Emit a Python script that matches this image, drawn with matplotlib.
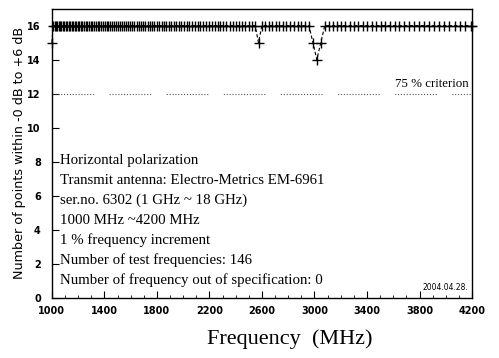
import numpy as np
import matplotlib
matplotlib.use("Agg")
import matplotlib.pyplot as plt

# Test frequencies: 1 % steps from 1000 MHz, last point at 4200 MHz (146 points)
start_mhz = 1000.0
step_ratio = 1.01
n_steps = 145
stop_mhz = 4200.0

# Number of points within -0 dB to +6 dB at each test frequency
counts = [
    15, 16, 16, 16, 16, 16, 16, 16, 16, 16, 16, 16, 16, 16, 16, 16, 16, 16, 16, 16,
    16, 16, 16, 16, 16, 16, 16, 16, 16, 16, 16, 16, 16, 16, 16, 16, 16, 16, 16, 16,
    16, 16, 16, 16, 16, 16, 16, 16, 16, 16, 16, 16, 16, 16, 16, 16, 16, 16, 16, 16,
    16, 16, 16, 16, 16, 16, 16, 16, 16, 16, 16, 16, 16, 16, 16, 16, 16, 16, 16, 16,
    16, 16, 16, 16, 16, 16, 16, 16, 16, 16, 16, 16, 16, 16, 16, 15, 16, 16, 16, 16,
    16, 16, 16, 16, 16, 16, 16, 16, 16, 16, 15, 14, 15, 16, 16, 16, 16, 16, 16, 16,
    16, 16, 16, 16, 16, 16, 16, 16, 16, 16, 16, 16, 16, 16, 16, 16, 16, 16, 16, 16,
    16, 16, 16, 16, 16, 16,
]

criterion_level = 12
criterion_label = "75 % criterion"

x_ticks = [1000, 1400, 1800, 2200, 2600, 3000, 3400, 3800, 4200]
y_ticks = [0, 2, 4, 6, 8, 10, 12, 14, 16]

info_lines = [
    "Horizontal polarization",
    "Transmit antenna: Electro-Metrics EM-6961",
    "ser.no. 6302 (1 GHz ~ 18 GHz)",
    "1000 MHz ~4200 MHz",
    "1 % frequency increment",
    "Number of test frequencies: 146",
    "Number of frequency out of specification: 0",
]
date_label = "2004.04.28."

freqs = list(start_mhz * step_ratio ** np.arange(n_steps)) + [stop_mhz]

fig = plt.figure(figsize=(4.99, 3.58), dpi=100)
ax = fig.add_axes([0.104, 0.168, 0.842, 0.808])

ax.plot(freqs, counts, color="black", linestyle=(0, (3, 2)), linewidth=0.8,
        marker="+", markersize=6.5, markeredgewidth=1.0, clip_on=False, zorder=3)

# dotted criterion line, printed in short runs of dots
dot_run = (1.0, 1.6) * 14 + (1.0, 14.0)
ax.axhline(criterion_level, color="#555555", linestyle=(0, dot_run), linewidth=0.8)
ax.text(3890, criterion_level + 0.2, criterion_label, family="Liberation Serif",
        fontsize=9.3, ha="center", va="bottom")

ax.set_xlim(1000, 4200)
ax.set_ylim(0, 17)
ax.set_xticks(x_ticks)
ax.set_yticks(y_ticks)
ax.set_xticks(np.arange(1000, 4201, 100), minor=True)
ax.tick_params(axis="both", which="major", direction="in", length=5, width=0.8,
               labelsize=7)
ax.tick_params(axis="x", which="minor", direction="in", length=2.5, width=0.6)
for lbl in ax.get_xticklabels() + ax.get_yticklabels():
    lbl.set_fontweight("bold")
ax.tick_params(axis="x", pad=6)
ax.tick_params(axis="y", pad=8)

for spine in ax.spines.values():
    spine.set_linewidth(1.0)

ax.set_ylabel("Number of points within -0 dB to +6 dB", fontsize=9.2, labelpad=1)
ax.set_xlabel("Frequency  (MHz)", family="Liberation Serif", fontsize=16)
ax.xaxis.set_label_coords(0.567, -0.11)

y0 = 8.1
for i, line in enumerate(info_lines):
    ax.text(1060, y0 - i * 1.18, line, family="Liberation Serif", fontsize=10.7,
            ha="left", va="center")

ax.text(4170, 0.35, date_label, fontsize=5.5, ha="right", va="bottom")

fig.savefig("out.png", dpi=100)
